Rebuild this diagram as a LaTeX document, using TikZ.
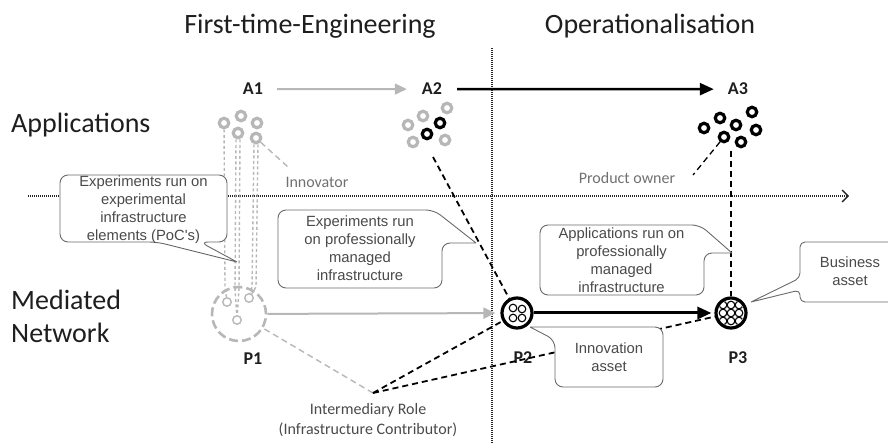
\documentclass[tikz,border=0pt]{standalone}
\usepackage{fontspec}
\setmainfont{Carlito}
\newfontfamily\boxfont{Liberation Sans}
\usetikzlibrary{arrows.meta}

\definecolor{ghost}{HTML}{B7B7B7}
\definecolor{softtext}{HTML}{707070}
\definecolor{boxedge}{HTML}{6A6A6A}
\definecolor{boxink}{HTML}{4A4A4A}
\definecolor{ink}{HTML}{1E1E1E}

\begin{document}
\begin{tikzpicture}[x=1pt,y=-1pt,
  heading/.style={font=\fontsize{28}{30}\selectfont, text=ink, inner sep=0pt, anchor=base},
  rowlabel/.style={font=\fontsize{28}{30}\selectfont, text=ink, inner sep=0pt, anchor=base west},
  tag/.style={font=\fontsize{18}{20}\selectfont\bfseries, text=ink, inner sep=0pt, anchor=base},
  note/.style={font=\fontsize{16}{20}\selectfont, text=softtext, inner sep=0pt, align=center},
  appring/.style={circle, draw, line width=3.2pt, minimum size=9.5pt, inner sep=0pt},
  pale ring/.style={appring, draw=ghost},
  dark ring/.style={appring, draw=black},
  mini ring/.style={circle, draw=ghost, line width=1.4pt, minimum size=8.5pt, inner sep=0pt},
  callout/.style={draw=boxedge, fill=white, line width=0.9pt, rounded corners=8pt, line join=round},
  callout text/.style={font=\boxfont\fontsize{14.8}{18}\selectfont, text=boxink, align=center, inner sep=0pt},
  ghost dash/.style={draw=ghost, line width=1.4pt, dash pattern=on 3pt off 2.5pt},
  link dash/.style={draw=black, line width=1.8pt, dash pattern=on 6pt off 4pt},
  phase line/.style={draw=black!85, line width=1.4pt, dash pattern=on 1pt off 1pt},
  globe/.style={circle, draw=black, fill=white, line width=3.2pt, minimum size=30pt, inner sep=0pt},
]
\useasboundingbox (0,0) rectangle (888,443);

% ---- headings and row labels
\node[heading] (fte) at (310,34) {First-time-Engineering};
\node[heading] (ops) at (650,34) {Operationalisation};
\node[rowlabel] (apps) at (11,133) {Applications};
\node[rowlabel] (med1) at (11,309) {Mediated};
\node[rowlabel] (med2) at (11,342) {Network};

% ---- phase divider and time axis
\coordinate (divtop) at (492,48);
\coordinate (divbot) at (492,443);
\draw[phase line] (divtop) -- (divbot);
\coordinate (axs) at (28,196);
\coordinate (axe) at (849,196);
\draw[phase line, -{Straight Barb[length=6pt,width=12pt,line width=1.3pt]}] (axs) -- (axe);

% ---- stage tags
\node[tag] (a1) at (253,95) {A1};
\node[tag] (a2) at (432,95) {A2};
\node[tag] (a3) at (738,95) {A3};
\node[tag] (p1t) at (253,364) {P1};
\node[tag] (p2t) at (523,363) {P2};
\node[tag] (p3t) at (738,363) {P3};

% ---- side notes
\node[note] (innov) at (317,182) {Innovator};
\node[note] (prodown) at (627,178) {Product owner};
\node[note, text=boxink] (imrole) at (368,420) {Intermediary Role\\(Infrastructure Contributor)};

% ---- application clusters
\node[pale ring] (a1r1) at (224,123) {};
\node[pale ring] (a1r2) at (241,116) {};
\node[pale ring] (a1r3) at (257,123) {};
\node[pale ring] (a1r4) at (238,133) {};
\node[pale ring] (a1r5) at (256,138) {};

\node[pale ring] (a2r1) at (408,125) {};
\node[pale ring] (a2r2) at (423,116) {};
\node[pale ring] (a2r3) at (447,108) {};
\node[pale ring] (a2r4) at (413,142) {};
\node[pale ring] (a2r5) at (445,140) {};
\node[dark ring] (a2r6) at (440,123) {};
\node[dark ring] (a2r7) at (427,134) {};

\node[dark ring] (a3r1) at (704,128) {};
\node[dark ring] (a3r2) at (720,118) {};
\node[dark ring] (a3r3) at (736,125) {};
\node[dark ring] (a3r4) at (752,112) {};
\node[dark ring] (a3r5) at (756,130) {};
\node[dark ring] (a3r6) at (724,137) {};
\node[dark ring] (a3r7) at (741,142) {};

% ---- platforms
\node[circle, draw=ghost, line width=2.6pt, dash pattern=on 9pt off 4pt,
      minimum size=54pt, inner sep=0pt] (p1) at (239,314) {};
\node[mini ring] (sc1) at (227,302) {};
\node[mini ring] (sc2) at (249,298) {};
\node[mini ring] (sc3) at (237,320) {};

% ---- experimental elements traced down from the innovator's applications
\coordinate (c1) at (225,287);
\coordinate (c2a) at (235,288);
\coordinate (c2b) at (239,288);
\coordinate (c3a) at (252,287);
\coordinate (c3b) at (256,287);
\draw[ghost dash] (a1r1) -- (c1) -- (sc1);
\draw[ghost dash] ([xshift=-2pt]a1r4.south) -- (c2a) -- (sc3);
\draw[ghost dash] ([xshift=2pt]a1r4.south) -- (c2b) -- (sc3);
\draw[ghost dash] ([xshift=-2pt]a1r5.south) -- (c3a) -- (sc2);
\draw[ghost dash] ([xshift=2pt]a1r5.south) -- (c3b) -- (sc2);

% ---- role connectors
\coordinate (innoend) at (288,167);
\coordinate (poend) at (693,175);
\coordinate (a2low) at (433,157);
\coordinate (a3low) at (731,151);
\coordinate (imr) at (373,393);

\node[globe] (p2) at (517,313) {};
\node[globe] (p3) at (731,313) {};

\draw[ghost dash, dash pattern=on 6pt off 4pt] (a1r5) -- (innoend);
\draw[link dash, line width=1.3pt] (a3r6) -- (poend);
\draw[link dash] (a2low) -- (p2);
\draw[link dash] (a3low) -- (p3);
\draw[ghost dash, dash pattern=on 6pt off 4pt] (imr) -- (p1);
\draw[link dash] (imr) -- (p2);
\draw[link dash] (imr) -- (p3);

% ---- evolution arrows
\draw[ghost, line width=2pt, shorten <=14pt, shorten >=15pt,
      -{Triangle[length=12pt,width=11pt]}] (a1) -- (a2);
\draw[black, line width=2.6pt, shorten <=15pt, shorten >=14pt,
      -{Triangle[length=14pt,width=12pt]}] (a2) -- (a3);
\draw[ghost, line width=2pt, shorten >=5pt,
      -{Triangle[length=12pt,width=11pt]}] (p1) -- (p2);
\draw[black, line width=3pt, shorten >=3pt,
      -{Triangle[length=14pt,width=12pt]}] (p2) -- (p3);

% ---- platform interiors
\foreach \dx/\dy in {-4/-5, 5/-4, -4/5, 5/5}
  \draw[black, line width=1.1pt, fill=white] ([shift={(\dx,\dy)}]p2.center) circle (3.8pt);
\begin{scope}
  \clip (p3.center) circle (13.4pt);
  \foreach \dx in {-8,0,8}
    \foreach \dy in {-8,0,8}
      \draw[black, line width=1.1pt] ([shift={(\dx,\dy)}]p3.center) circle (3.8pt);
\end{scope}

% ---- callouts
\draw[callout] (237,262) -- (200,242) -- (227,242) -- (227,175) -- (60,175) -- (60,242) -- (157,242) -- (237,262);
\node[callout text] (box1) at (143.5,209.5) {Experiments run on\\experimental\\infrastructure\\elements (PoC's)};

\draw[callout] (476,243) -- (442,243) -- (442,288) -- (278,288) -- (278,210) -- (434,210) -- (476,243);
\node[callout text] (box2) at (360,248.5) {Experiments run\\on professionally\\managed\\infrastructure};

\draw[callout] (732,253) -- (704,253) -- (704,295) -- (540,295) -- (540,225) -- (700,225) -- (732,253);
\node[callout text] (box3) at (621.5,260) {Applications run on\\professionally\\managed\\infrastructure};

\draw[callout, rounded corners=5pt] (751,302) -- (800,290) -- (800,302) -- (905,302) -- (905,242) -- (800,242) -- (800,278) -- (751,302);
\node[callout text] (box4) at (850,271) {Business\\asset};

\draw[callout] (530,327) -- (555,340) -- (555,387) -- (663,387) -- (663,327) -- (567,327) -- (530,327);
\node[callout text] (box5) at (609,357.5) {Innovation\\asset};
\end{tikzpicture}
\end{document}
